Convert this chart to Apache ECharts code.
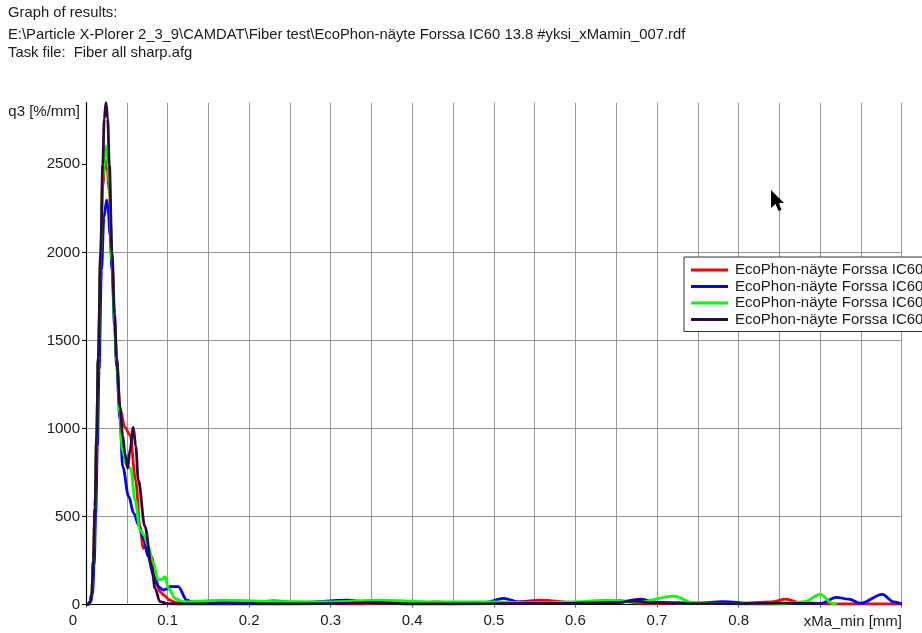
<!DOCTYPE html>
<html>
<head>
<meta charset="utf-8">
<script src="https://cdn.jsdelivr.net/npm/echarts@6/dist/echarts.min.js"></script>
<style>
html,body{margin:0;padding:0;background:#fff;}
#c{width:922px;height:633px;}
</style>
</head>
<body>
<div id="c"></div>
<script>
// ---- data ----
var headerLines = [
  'Graph of results:',
  'E:\\Particle X-Plorer 2_3_9\\CAMDAT\\Fiber test\\EcoPhon-näyte Forssa IC60 13.8 #yksi_xMamin_007.rdf',
  'Task file:  Fiber all sharp.afg'
];
var seriesNames = [
  'EcoPhon-näyte Forssa IC60 13.8 #yksi',
  'EcoPhon-näyte Forssa IC60 13.8 #kaksi',
  'EcoPhon-näyte Forssa IC60 13.8 #kolme',
  'EcoPhon-näyte Forssa IC60 13.8 #neljä'
];
var seriesColors = ['#ff0000', '#0000ff', '#00ff00', '#2e0b3f'];
var yTickValues = [0, 500, 1000, 1500, 2000, 2500];
var xAxisName = 'xMa_min [mm]';
var yAxisName = 'q3 [%/mm]';

var redData = [
  [0,0],[0.002,0],[0.005,15],[0.007,60],[0.009,245],[0.011,550],[0.013,940],[0.015,1390],
  [0.018,1980],[0.0205,2380],[0.0234,2523],[0.026,2470],[0.0286,2350],[0.0319,1950],[0.035,1620],
  [0.0376,1380],[0.0417,1110],[0.0478,1006],[0.054,962],[0.0608,707],[0.0662,442],[0.0703,319],
  [0.0744,347],[0.0805,271],[0.0858,139],[0.0907,73],[0.0948,54],[0.103,25],[0.11,10],[0.13,8],
  [0.2,6],[0.3,5],[0.33,3],[0.36,8],[0.4,5],[0.43,15],[0.46,6],[0.52,10],[0.557,25],[0.6,10],
  [0.651,22],[0.68,8],[0.7,5],[0.75,5],[0.8,6],[0.84,15],[0.858,30],[0.875,12],[0.9,5],[0.92,3],[1.0,3]
];
var blueData = [
  [0,0],[0.003,0],[0.006,15],[0.008,60],[0.01,220],[0.012,520],[0.014,900],[0.016,1330],
  [0.019,1900],[0.022,2200],[0.0254,2296],[0.027,2250],[0.0295,2100],[0.0319,1900],[0.035,1580],
  [0.0376,1350],[0.0417,1050],[0.045,782],[0.0524,612],[0.0585,518],[0.0646,451],[0.0703,376],
  [0.0764,271],[0.0825,167],[0.0886,101],[0.0948,82],[0.1,90],[0.103,101],[0.113,101],[0.1236,25],
  [0.13,15],[0.2,12],[0.23,20],[0.26,10],[0.32,25],[0.35,12],[0.39,15],[0.45,10],[0.49,12],
  [0.512,35],[0.53,15],[0.6,10],[0.65,12],[0.68,30],[0.7,12],[0.75,8],[0.78,16],[0.82,6],
  [0.85,5],[0.9,5],[0.92,41],[0.935,30],[0.95,7],[0.976,58],[0.99,15],[1.0,3]
];
var greenData = [
  [0,0],[0.002,0],[0.005,15],[0.007,60],[0.009,245],[0.011,550],[0.013,940],[0.015,1390],
  [0.018,1990],[0.0205,2420],[0.0237,2604],[0.026,2540],[0.0286,2400],[0.0319,1950],[0.035,1600],
  [0.0376,1380],[0.0417,1080],[0.0445,877],[0.0499,792],[0.0548,773],[0.0601,593],[0.0662,423],
  [0.0711,395],[0.0764,328],[0.0818,243],[0.0886,139],[0.0928,143],[0.0969,158],[0.101,92],
  [0.11,30],[0.12,15],[0.17,25],[0.22,18],[0.3,15],[0.36,25],[0.42,15],[0.5,15],[0.55,10],
  [0.6,15],[0.64,25],[0.68,15],[0.72,48],[0.745,10],[0.8,3],[0.85,2],[0.88,15],[0.9,58],[0.915,5],[0.92,0]
];
var purpleData = [
  [0,0],[0.002,0],[0.005,15],[0.007,60],[0.009,250],[0.011,555],[0.013,950],[0.015,1400],
  [0.018,2000],[0.0205,2500],[0.0224,2760],[0.0245,2850],[0.0266,2760],[0.0286,2500],[0.0319,2000],
  [0.035,1650],[0.0376,1400],[0.0417,1122],[0.045,960],[0.0478,858],[0.0511,773],[0.054,880],
  [0.058,1006],[0.061,900],[0.0641,707],[0.0723,442],[0.0805,215],[0.0846,92],[0.0907,16],
  [0.1,5],[0.12,3],[0.2,3],[0.3,5],[0.35,10],[0.4,3],[0.5,5],[0.6,8],[0.65,10],[0.67,20],
  [0.7,8],[0.75,5],[0.8,5],[0.85,8],[0.9,5]
];
var allData = [redData, blueData, greenData, purpleData];

// ---- chart ----
var FONT = '"Liberation Sans", Arial, sans-serif';
var chart = echarts.init(document.getElementById('c'), null, {renderer: 'canvas'});
var gridColor = '#999999';
var textColor = '#1a1a1a';

var series = allData.map(function (d, i) {
  return {
    name: seriesNames[i],
    type: 'line',
    data: d,
    showSymbol: false,
    smooth: 0.35,
    smoothMonotone: 'x',
    lineStyle: {width: 2.8, color: seriesColors[i]},
    itemStyle: {color: seriesColors[i]},
    emphasis: {disabled: true},
    z: 2 + i
  };
});

var graphics = headerLines.map(function (t, i) {
  return {
    type: 'text',
    style: {
      x: 8, y: [13, 35, 53][i], text: t, fill: textColor,
      font: '14.8px ' + FONT, align: 'left', verticalAlign: 'middle'
    }
  };
});
graphics.push({
  type: 'text',
  style: {x: 80, y: 112, text: yAxisName, fill: textColor, font: '15px ' + FONT, align: 'right', verticalAlign: 'middle'}
});
graphics.push({
  type: 'text',
  style: {x: 902, y: 622, text: xAxisName, fill: textColor, font: '15px ' + FONT, align: 'right', verticalAlign: 'middle'}
});
// mouse cursor seen in the screenshot
graphics.push({
  type: 'polygon',
  z: 100,
  shape: {points: [[771,190],[771,208],[775.5,204],[778.5,211],[781.5,209.8],[778.5,203],[784,203]]},
  style: {fill: '#000'}
});

chart.setOption({
  animation: false,
  backgroundColor: '#fff',
  textStyle: {fontFamily: FONT},
  grid: {left: 86, right: 20.3, top: 102.7, bottom: 28.5, containLabel: false},
  xAxis: {
    type: 'value', min: 0, max: 1, interval: 0.1,
    axisLine: {show: true, lineStyle: {color: '#000', width: 1.2}},
    axisTick: {show: true, length: 3, lineStyle: {color: '#555'}},
    axisLabel: {
      margin: 9, fontSize: 15, color: textColor, fontFamily: FONT,
      formatter: function (v) {
        if (Math.abs(v) < 1e-9) return '{z|0}';
        if (v > 0.85) return '';
        return v.toFixed(1);
      },
      rich: {z: {fontSize: 15, color: textColor, fontFamily: FONT, padding: [0, 26, 0, 0]}}
    },
    splitLine: {show: true, lineStyle: {color: gridColor, width: 1}},
    minorTick: {show: false, splitNumber: 2},
    minorSplitLine: {show: true, lineStyle: {color: gridColor, width: 1}}
  },
  yAxis: {
    type: 'value', min: 0, max: 2850, interval: 500,
    axisLine: {show: true, lineStyle: {color: '#000', width: 1.2}},
    axisTick: {show: true, length: 4, lineStyle: {color: '#000'}, customValues: yTickValues},
    axisLabel: {
      margin: 6, fontSize: 15, color: textColor, fontFamily: FONT, customValues: yTickValues,
      formatter: function (v) { return String(Math.round(v)); }
    },
    splitLine: {show: true, showMaxLine: false, lineStyle: {color: gridColor, width: 1}}
  },
  legend: {
    show: true,
    orient: 'vertical',
    left: 684, top: 257,
    data: seriesNames,
    icon: 'rect',
    itemWidth: 37, itemHeight: 3,
    itemGap: 0.5,
    padding: [5, 4, 4, 7],
    borderColor: '#333', borderWidth: 1,
    backgroundColor: '#fff',
    selectedMode: false,
    textStyle: {fontSize: 15, lineHeight: 16, color: textColor, fontFamily: FONT, padding: [0, 0, 0, 2]},
    z: 20
  },
  series: series,
  graphic: graphics
});
</script>
</body>
</html>
